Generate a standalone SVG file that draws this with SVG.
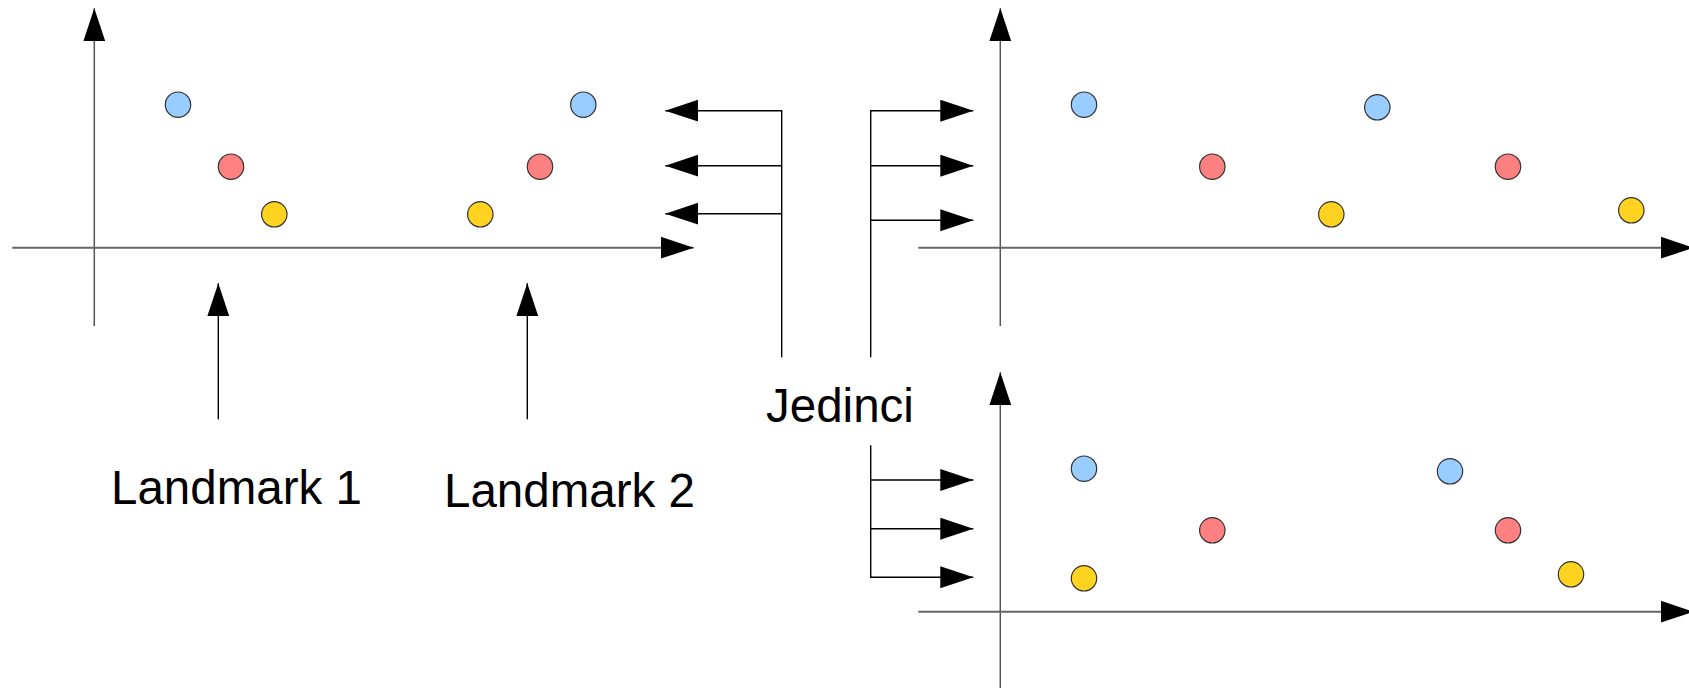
<svg xmlns="http://www.w3.org/2000/svg" width="1689" height="688" viewBox="0 0 1689 688">
<style>
.axis{stroke:#555;stroke-width:1.5;fill:none}
.xaxis{stroke:#666;stroke-width:2;fill:none}
.conn{stroke:#000;stroke-width:1.4;fill:none}
.dot{stroke:#333;stroke-width:1.2}
.b{fill:#99ccff}.r{fill:#ff8080}.y{fill:#ffd320}
.lbl{font-family:"Liberation Sans",Arial,sans-serif;font-size:47.5px;fill:#000}
</style>
<defs>
<marker id="ah" markerUnits="userSpaceOnUse" markerWidth="34" markerHeight="23" refX="33" refY="11" orient="auto" viewBox="0 0 34 23">
<path d="M0,0 L33,11 L0,22 Z" fill="#000"/>
</marker>
</defs>
<rect width="1689" height="688" fill="#fff"/>
<g id="plot-left">
<line class="axis" x1="94.3" y1="326" x2="94.3" y2="8.3" marker-end="url(#ah)"/>
<line class="xaxis" x1="12.3" y1="247.7" x2="693.7" y2="247.7" marker-end="url(#ah)"/>
<circle class="dot b" cx="178" cy="104.7" r="12.7"/>
<circle class="dot r" cx="231" cy="166.7" r="12.7"/>
<circle class="dot y" cx="274.3" cy="214.3" r="12.7"/>
<circle class="dot y" cx="480.3" cy="214.3" r="12.7"/>
<circle class="dot r" cx="540" cy="166.7" r="12.7"/>
<circle class="dot b" cx="583.3" cy="104.7" r="12.7"/>
</g>
<g id="plot-top-right">
<line class="axis" x1="1000.3" y1="326" x2="1000.3" y2="8.3" marker-end="url(#ah)"/>
<line class="xaxis" x1="918.3" y1="247.7" x2="1693.7" y2="247.7" marker-end="url(#ah)"/>
<circle class="dot b" cx="1084" cy="104.7" r="12.7"/>
<circle class="dot r" cx="1212.3" cy="166.7" r="12.7"/>
<circle class="dot y" cx="1331.3" cy="214.3" r="12.7"/>
<circle class="dot b" cx="1377.3" cy="107.3" r="12.7"/>
<circle class="dot r" cx="1508" cy="166.7" r="12.7"/>
<circle class="dot y" cx="1631.3" cy="210.3" r="12.7"/>
</g>
<g id="plot-bottom-right">
<line class="axis" x1="1000.3" y1="688" x2="1000.3" y2="372.3" marker-end="url(#ah)"/>
<line class="xaxis" x1="918.3" y1="611.7" x2="1693.7" y2="611.7" marker-end="url(#ah)"/>
<circle class="dot b" cx="1084" cy="468.7" r="12.7"/>
<circle class="dot r" cx="1212.3" cy="530.3" r="12.7"/>
<circle class="dot y" cx="1084" cy="578.3" r="12.7"/>
<circle class="dot b" cx="1450" cy="471.3" r="12.7"/>
<circle class="dot r" cx="1508" cy="530.3" r="12.7"/>
<circle class="dot y" cx="1571" cy="574.3" r="12.7"/>
</g>
<g id="landmark-1">
<text class="lbl" x="111" y="504">Landmark 1</text>
</g>
<g id="landmark-2">
<text class="lbl" x="444" y="507">Landmark 2</text>
</g>
<g id="jedinci">
<text class="lbl" x="766" y="422">Jedinci</text>
</g>
<g id="connectors">
<line class="conn" x1="218.3" y1="419.3" x2="218.3" y2="283.3" marker-end="url(#ah)"/>
<line class="conn" x1="527.3" y1="419.3" x2="527.3" y2="283.3" marker-end="url(#ah)"/>
<path class="conn" d="M781.7,357.3 V110.7 H665.3" marker-end="url(#ah)"/>
<path class="conn" d="M781.7,165.7 H665.3" marker-end="url(#ah)"/>
<path class="conn" d="M781.7,213.7 H665.3" marker-end="url(#ah)"/>
<path class="conn" d="M870.7,357.3 V110.7 H973.3" marker-end="url(#ah)"/>
<path class="conn" d="M870.7,165.7 H973.3" marker-end="url(#ah)"/>
<path class="conn" d="M870.7,220.3 H973.3" marker-end="url(#ah)"/>
<path class="conn" d="M870.7,445.3 V577.3 H973.3" marker-end="url(#ah)"/>
<path class="conn" d="M870.7,480 H973.3" marker-end="url(#ah)"/>
<path class="conn" d="M870.7,528.7 H973.3" marker-end="url(#ah)"/>
</g>
</svg>
